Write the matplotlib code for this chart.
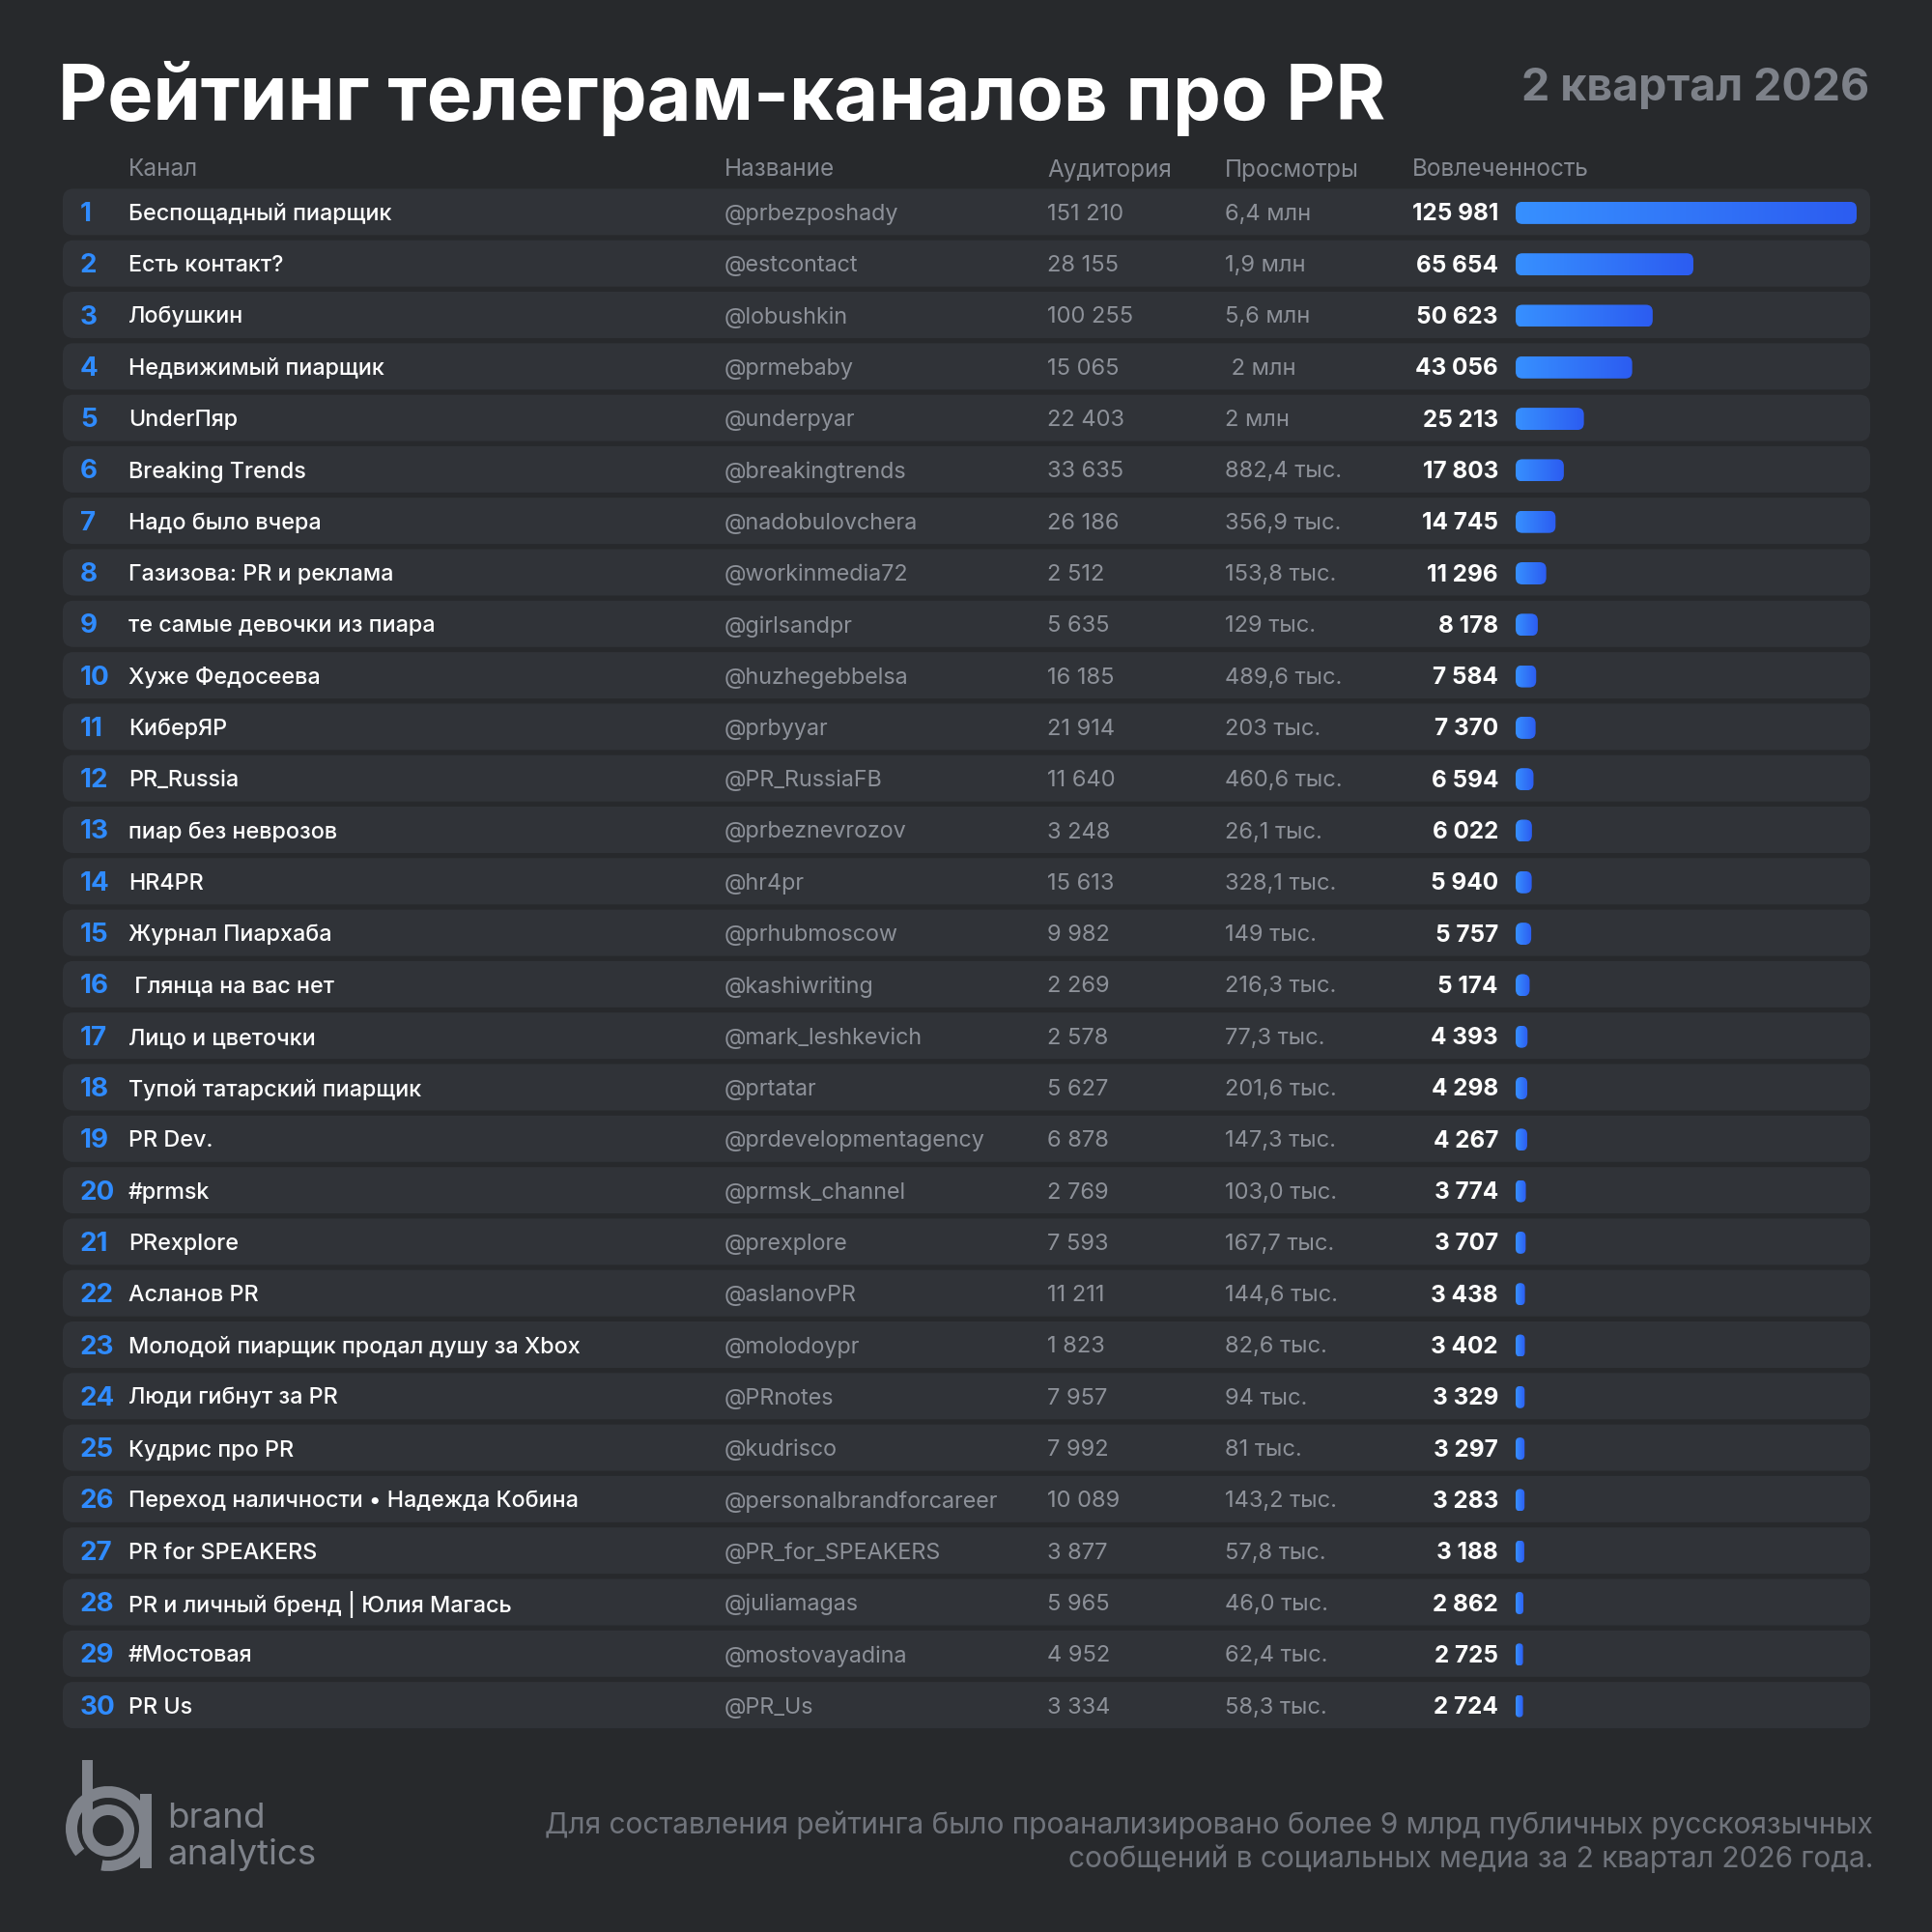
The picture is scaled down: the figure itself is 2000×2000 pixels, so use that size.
import matplotlib
matplotlib.use("Agg")
import matplotlib.pyplot as plt
import numpy as np
from matplotlib.patches import FancyBboxPatch, Rectangle, Wedge, Circle
from matplotlib.colors import LinearSegmentedColormap

plt.rcParams['font.family'] = ['Inter', 'DejaVu Sans']

# ---------------- data ----------------
title = "Рейтинг телеграм-каналов про PR"
period = "2 квартал 2026"
col_headers = ["Канал", "Название", "Аудитория", "Просмотры", "Вовлеченность"]
ranks = list(range(1, 31))
names = ["Беспощадный пиарщик", "Есть контакт?", "Лобушкин", "Недвижимый пиарщик", "UnderПяр",
         "Breaking Trends", "Надо было вчера", "Газизова: PR и реклама", "те самые девочки из пиара",
         "Хуже Федосеева", "КиберЯР", "PR_Russia", "пиар без неврозов", "HR4PR", "Журнал Пиархаба",
         " Глянца на вас нет", "Лицо и цветочки", "Тупой татарский пиарщик", "PR Dev.", "#prmsk",
         "PRexplore", "Асланов PR", "Молодой пиарщик продал душу за Xbox", "Люди гибнут за PR",
         "Кудрис про PR", "Переход наличности • Надежда Кобина", "PR for SPEAKERS",
         "PR и личный бренд | Юлия Магась", "#Мостовая", "PR Us"]
handles = ["@prbezposhady", "@estcontact", "@lobushkin", "@prmebaby", "@underpyar",
           "@breakingtrends", "@nadobulovchera", "@workinmedia72", "@girlsandpr", "@huzhegebbelsa",
           "@prbyyar", "@PR_RussiaFB", "@prbeznevrozov", "@hr4pr", "@prhubmoscow",
           "@kashiwriting", "@mark_leshkevich", "@prtatar", "@prdevelopmentagency", "@prmsk_channel",
           "@prexplore", "@aslanovPR", "@molodoypr", "@PRnotes", "@kudrisco",
           "@personalbrandforcareer", "@PR_for_SPEAKERS", "@juliamagas", "@mostovayadina", "@PR_Us"]
audience = [151210, 28155, 100255, 15065, 22403, 33635, 26186, 2512, 5635, 16185,
            21914, 11640, 3248, 15613, 9982, 2269, 2578, 5627, 6878, 2769,
            7593, 11211, 1823, 7957, 7992, 10089, 3877, 5965, 4952, 3334]
views = ["6,4 млн", "1,9 млн", "5,6 млн", " 2 млн", "2 млн", "882,4 тыс.", "356,9 тыс.",
         "153,8 тыс.", "129 тыс.", "489,6 тыс.", "203 тыс.", "460,6 тыс.", "26,1 тыс.",
         "328,1 тыс.", "149 тыс.", "216,3 тыс.", "77,3 тыс.", "201,6 тыс.", "147,3 тыс.",
         "103,0 тыс.", "167,7 тыс.", "144,6 тыс.", "82,6 тыс.", "94 тыс.", "81 тыс.",
         "143,2 тыс.", "57,8 тыс.", "46,0 тыс.", "62,4 тыс.", "58,3 тыс."]
engagement = [125981, 65654, 50623, 43056, 25213, 17803, 14745, 11296, 8178, 7584,
              7370, 6594, 6022, 5940, 5757, 5174, 4393, 4298, 4267, 3774,
              3707, 3438, 3402, 3329, 3297, 3283, 3188, 2862, 2725, 2724]
footnote = ("Для составления рейтинга было проанализировано более 9 млрд публичных русскоязычных\n"
            "сообщений в социальных медиа за 2 квартал 2026 года.")


def fmt(n):
    return format(n, ",").replace(",", " ")


# ---------------- style ----------------
BG = "#27292c"
ROW = "#303338"
WHITE = "#ffffff"
GRAY = "#8d9199"
HEAD = "#868a92"
BLUE = "#2f8bff"

W = H = 2000
fig = plt.figure(figsize=(20, 20), dpi=100, facecolor=BG)
ax = fig.add_axes([0, 0, 1, 1])
ax.set_xlim(0, W)
ax.set_ylim(H, 0)
ax.axis("off")
ax.set_facecolor(BG)

# title
ax.text(60, 102, title, color=WHITE, fontsize=57, fontweight="bold", ha="left", va="center")
ax.text(1935, 92, period, color="#7d8189", fontsize=33.5, fontweight="bold", ha="right", va="center")

# column headers
hdr_y = 176
col_x = [133, 750, 1084, 1268, 1462]
for x, t in zip(col_x, col_headers):
    ax.text(x, hdr_y, t, color=HEAD, fontsize=17.5, ha="left", va="center")

# rows
row0 = 219.4
pitch = 53.3
row_h = 48
row_left, row_right = 65, 1936
bar_x0, bar_len = 1569, 353
bar_h = 23
ty = 2.5  # text offset

bax = fig.add_axes([bar_x0 / W, 0, bar_len / W, 1])
bax.axis("off")
bax.patch.set_alpha(0)
vmax = max(engagement)
sx = vmax / bar_len  # value units per pixel
cmap = LinearSegmentedColormap.from_list("g", ["#3790ff", "#2c5cf1"])
grad = np.linspace(0, 1, 256).reshape(1, -1)

for i in range(len(ranks)):
    yc = row0 + i * pitch
    ax.add_patch(FancyBboxPatch((row_left, yc - row_h / 2), row_right - row_left, row_h,
                                boxstyle="round,pad=0,rounding_size=11",
                                facecolor=ROW, edgecolor="none", zorder=1))
    ax.text(83, yc + ty, str(ranks[i]), color=BLUE, fontsize=20, fontweight="bold",
            ha="left", va="center", zorder=3)
    ax.text(133, yc + ty, names[i], color=WHITE, fontsize=16.8, fontweight="medium",
            ha="left", va="center", zorder=3)
    ax.text(750, yc + ty, handles[i], color=GRAY, fontsize=16.8, ha="left", va="center", zorder=3)
    ax.text(1084, yc + ty, fmt(audience[i]), color=GRAY, fontsize=17, ha="left", va="center", zorder=3)
    ax.text(1268, yc + ty, views[i], color=GRAY, fontsize=17, ha="left", va="center", zorder=3)
    ax.text(1551, yc + ty, fmt(engagement[i]), color=WHITE, fontsize=17.5, fontweight="bold",
            ha="right", va="center", zorder=3)

    v = engagement[i]
    w_px = v / sx
    r_px = min(7, w_px / 2, bar_h / 2)
    patch = FancyBboxPatch((0, yc + 1 - bar_h / 2), v, bar_h,
                           boxstyle=f"round,pad=0,rounding_size={r_px * sx}",
                           mutation_aspect=1 / sx, facecolor="none", edgecolor="none")
    bax.add_patch(patch)
    im = bax.imshow(grad, extent=(0, v, yc + 1 + bar_h / 2, yc + 1 - bar_h / 2), aspect="auto",
                    cmap=cmap, interpolation="bilinear", zorder=2)
    im.set_clip_path(patch)

bax.set_xlim(0, vmax)
bax.set_ylim(H, 0)

# footer logo
LOGO = "#7f838b"
cx, cy = 112, 1893
# 'a' bowl (open at upper-left where the 'b' stem passes) and its stem
ax.add_patch(Wedge((cx, cy), 44, 140, 460, width=12, facecolor=LOGO, edgecolor="none"))
ax.add_patch(Rectangle((145, 1857), 12, 77, facecolor=LOGO, edgecolor="none"))
# gap and 'b' bowl
ax.add_patch(Circle((cx, cy + 2), 31, facecolor=BG, edgecolor="none"))
ax.add_patch(Wedge((cx, cy + 2), 27, 0, 360, width=11, facecolor=LOGO, edgecolor="none"))
ax.add_patch(Rectangle((85, 1822), 11, 75, facecolor=LOGO, edgecolor="none"))
ax.text(173, 1882, "brand", color=LOGO, fontsize=26.5, ha="left", va="center")
ax.text(173, 1920, "analytics", color=LOGO, fontsize=26.5, ha="left", va="center")

ax.text(1939, 1907, footnote, color="#70747c", fontsize=21.5, ha="right", va="center",
        multialignment="right", linespacing=1.2)

fig.savefig("out.png", dpi=100, facecolor=BG)
